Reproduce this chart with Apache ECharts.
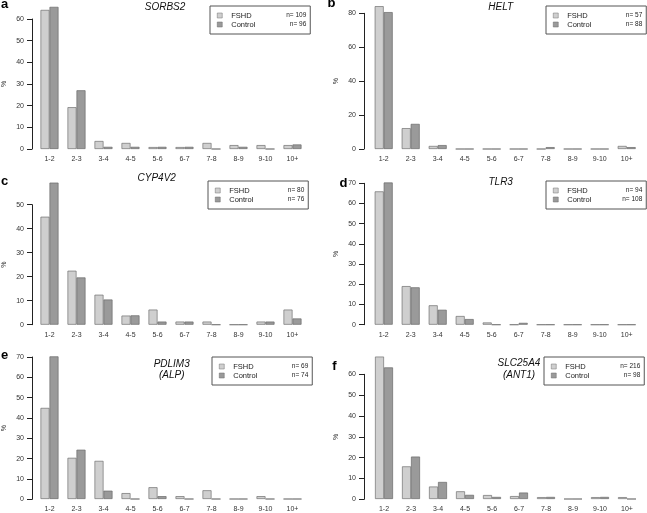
<!DOCTYPE html>
<html>
<head>
<meta charset="utf-8">
<script src="https://cdn.jsdelivr.net/npm/echarts@6/dist/echarts.min.js"></script>
<style>
  html, body { margin: 0; padding: 0; background: #fff; }
  #chart { width: 647px; height: 513px; }
</style>
</head>
<body>
<div id="chart"></div>
<script>
// 数据（百分比，从图上读取）
const categories = ['1-2', '2-3', '3-4', '4-5', '5-6', '6-7', '7-8', '8-9', '9-10', '10+']

const sorbs2Fshd = [64.2, 19.3, 3.7, 2.8, 0.9, 0.9, 2.8, 1.8, 1.8, 1.8]
const sorbs2Control = [65.6, 27.1, 1.0, 1.0, 1.0, 1.0, 0, 1.0, 0, 2.1]
const heltFshd = [84.2, 12.3, 1.8, 0, 0, 0, 0, 0, 0, 1.8]
const heltControl = [80.7, 14.8, 2.3, 0, 0, 0, 1.1, 0, 0, 1.1]
const cyp4v2Fshd = [45.0, 22.5, 12.5, 3.8, 6.3, 1.3, 1.3, 0, 1.3, 6.3]
const cyp4v2Control = [59.2, 19.7, 10.5, 3.9, 1.3, 1.3, 0, 0, 1.3, 2.6]
const tlr3Fshd = [66.0, 19.1, 9.6, 4.3, 1.1, 0, 0, 0, 0, 0]
const tlr3Control = [70.4, 18.5, 7.4, 2.8, 0, 0.9, 0, 0, 0, 0]
const pdlim3Fshd = [44.9, 20.3, 18.8, 2.9, 5.8, 1.4, 4.3, 0, 1.4, 0]
const pdlim3Control = [70.3, 24.3, 4.1, 0, 1.4, 0, 0, 0, 0, 0]
const slc25a4Fshd = [68.5, 15.7, 6.0, 3.7, 1.9, 1.4, 0.9, 0, 0.9, 0.9]
const slc25a4Control = [63.3, 20.4, 8.2, 2.0, 1.0, 3.1, 1.0, 0, 1.0, 0]

const panelLetters = ['a', 'b', 'c', 'd', 'e', 'f']
const geneTitles = ['SORBS2', 'HELT', 'CYP4V2', 'TLR3', 'PDLIM3\n(ALP)', 'SLC25A4\n(ANT1)']
const nFshd = [109, 57, 80, 94, 69, 216]
const nControl = [96, 88, 76, 108, 74, 98]
const yTickMax = [60, 80, 50, 70, 70, 60]
const yTickStep = [10, 20, 10, 10, 10, 10]

const fshdSeries = [sorbs2Fshd, heltFshd, cyp4v2Fshd, tlr3Fshd, pdlim3Fshd, slc25a4Fshd]
const controlSeries = [sorbs2Control, heltControl, cyp4v2Control, tlr3Control, pdlim3Control, slc25a4Control]

// 像素布局
const layout = [
  { axisX: 31, barX: 40.5, y0: 149, topTick: 19, yMax: 68, title: [165, 7], letter: [4.5, 4], legend: [210, 6] },
  { axisX: 364, barX: 374.7, y0: 149, topTick: 13.3, yMax: 86, title: [500.7, 7], letter: [331.5, 3.5], legend: [546, 6] },
  { axisX: 31, barX: 40.5, y0: 324.7, topTick: 204.7, yMax: 60, title: [156.7, 178], letter: [4.5, 181.5], legend: [208, 181] },
  { axisX: 364, barX: 374.7, y0: 324.7, topTick: 183.3, yMax: 72, title: [500.7, 182], letter: [343.5, 183.8], legend: [546, 181] },
  { axisX: 31, barX: 40.5, y0: 499.3, topTick: 357, yMax: 72, title: [171.7, 369.5], letter: [4.5, 355.5], legend: [212, 357] },
  { axisX: 364, barX: 375, y0: 499.3, topTick: 374.3, yMax: 70, title: [519, 369.2], letter: [334.5, 366], legend: [544, 357] }
]

const FONT = '"Liberation Sans", Arial, Helvetica, sans-serif'
const grids = []
const xAxes = []
const yAxes = []
const series = []
const legends = []
const graphics = []

// 柱状图网格
layout.forEach((L, i) => {
  const scale = (L.y0 - L.topTick) / yTickMax[i]
  grids.push({ left: L.barX - 4.5, width: 270, top: L.y0 - scale * L.yMax, height: scale * L.yMax })
  xAxes.push({
    type: 'category', gridIndex: i, data: categories,
    axisLine: { show: false }, axisTick: { show: false },
    axisLabel: { fontSize: 7, color: '#333', margin: 7, fontFamily: FONT, interval: 0 }
  })
  yAxes.push({ type: 'value', gridIndex: i, min: 0, max: L.yMax, show: false, splitLine: { show: false } })
  series.push({
    name: 'FSHD', type: 'bar', xAxisIndex: i, yAxisIndex: i, data: fshdSeries[i],
    barWidth: 9, barGap: '0%',
    itemStyle: { color: '#cfcfcf', borderColor: '#707070', borderWidth: 0.7 }
  })
  series.push({
    name: 'Control', type: 'bar', xAxisIndex: i, yAxisIndex: i, data: controlSeries[i],
    barWidth: 9, barGap: '0%',
    itemStyle: { color: '#9a9a9a', borderColor: '#6a6a6a', borderWidth: 0.7 }
  })
  legends.push({
    left: L.legend[0], top: L.legend[1], orient: 'vertical',
    data: ['FSHD', 'Control'], selectedMode: false,
    icon: 'rect',
    borderColor: '#555', borderWidth: 1, padding: [5, 4, 5, 7], itemGap: 0,
    itemWidth: 5, itemHeight: 5,
    itemStyle: { borderWidth: 0.5 },
    textStyle: {
      fontSize: 7.5, color: '#222', lineHeight: 9, fontFamily: FONT,
      rich: {
        lab: { width: 45, fontSize: 7.5, color: '#222', padding: [0, 0, 0, 4], fontFamily: FONT },
        n: { width: 30, align: 'right', fontSize: 6.5, color: '#222', fontFamily: FONT }
      }
    },
    formatter: name => `{lab|${name}}{n|n= ${name === 'FSHD' ? nFshd[i] : nControl[i]}}`
  })
  graphics.push({
    type: 'text', x: L.letter[0], y: L.letter[1],
    style: { text: panelLetters[i], font: `bold 13px ${FONT}`, fill: '#000', textAlign: 'center', textVerticalAlign: 'middle' }
  })
  graphics.push({
    type: 'text', x: L.title[0], y: L.title[1],
    style: { text: geneTitles[i], font: `italic 10px ${FONT}`, fill: '#111', textAlign: 'center', textVerticalAlign: 'middle', lineHeight: 11.5 }
  })
})

// 可见 y 轴网格（只画到最高刻度）
layout.forEach((L, i) => {
  const gi = 6 + i
  grids.push({ left: L.axisX, width: 1, top: L.topTick, height: L.y0 - L.topTick })
  xAxes.push({ type: 'value', gridIndex: gi, show: false })
  yAxes.push({
    type: 'value', gridIndex: gi, min: 0, max: yTickMax[i], interval: yTickStep[i],
    name: '%', nameLocation: 'middle', nameRotate: 90, nameGap: 24,
    nameTextStyle: { fontSize: 7, color: '#333', fontFamily: FONT },
    axisLine: { show: true, lineStyle: { color: '#222', width: 1 } },
    axisTick: { show: true, length: 5, lineStyle: { color: '#222' } },
    axisLabel: { fontSize: 7, color: '#333', margin: 8, fontFamily: FONT },
    splitLine: { show: false }
  })
})

const chart = echarts.init(document.getElementById('chart'))
chart.setOption({
  animation: false,
  backgroundColor: '#fff',
  grid: grids,
  xAxis: xAxes,
  yAxis: yAxes,
  legend: legends,
  series: series,
  graphic: graphics
})
</script>
</body>
</html>
